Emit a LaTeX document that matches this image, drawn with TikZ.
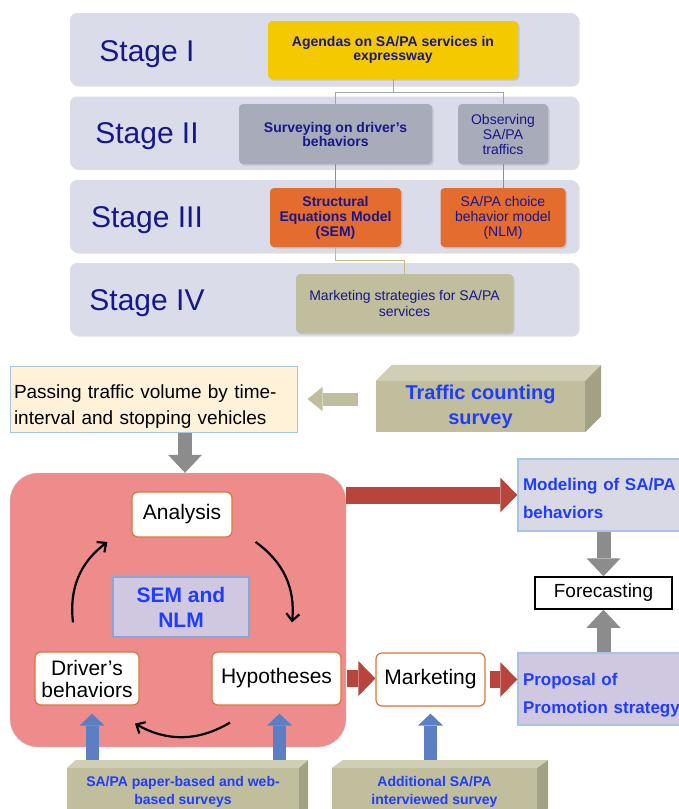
\documentclass[tikz,border=0pt]{standalone}
\usepackage{fontspec}
\setmainfont{Liberation Sans}
\usetikzlibrary{arrows.meta,calc,shadows}
\definecolor{panelgray}{HTML}{DADDE9}
\definecolor{stagenavy}{HTML}{17178C}
\definecolor{agendayellow}{HTML}{F5C900}
\definecolor{surveygray}{HTML}{A8ABBA}
\definecolor{modelorange}{HTML}{E46C2E}
\definecolor{khaki}{HTML}{C0BE9D}
\definecolor{khakitop}{HTML}{D0CEB5}
\definecolor{khakiside}{HTML}{A3A183}
\definecolor{cream}{HTML}{FFF2D9}
\definecolor{pinkbox}{HTML}{EE8C8C}
\definecolor{lavender}{HTML}{D0C8E0}
\definecolor{lightlav}{HTML}{D9D9E6}
\definecolor{textblue}{HTML}{1F3DFF}
\definecolor{arrowblue}{HTML}{5B7FC2}
\definecolor{arrowgray}{HTML}{8C8C8C}
\definecolor{arrowred}{HTML}{B8453B}
\definecolor{edgeorange}{HTML}{D8763C}
\definecolor{edgeblue}{HTML}{A7C3E6}
\definecolor{linkgray}{HTML}{A0A4B8}
\definecolor{linktan}{HTML}{C9B98A}
\begin{document}
\begin{tikzpicture}[x=1pt,y=-1pt,
        softshadow/.style={drop shadow={shadow xshift=1.5pt,shadow yshift=-1.5pt,opacity=0.25}},
        panel/.style={fill=panelgray,rounded corners=7pt,minimum width=508pt,minimum height=72pt,softshadow},
        stagelbl/.style={anchor=base,text=stagenavy,font=\fontsize{30}{32}\selectfont},
        topbox/.style={rounded corners=4pt,text=stagenavy,align=center,inner sep=0pt,softshadow},
        whitebox/.style={fill=white,draw=edgeorange,line width=1.2pt,rounded corners=6pt,inner sep=0pt,align=center,font=\fontsize{21}{22}\selectfont},
        bluetext/.style={text=textblue,font=\bfseries\fontsize{17}{28}\selectfont},
        graybar/.style={draw=arrowgray,line width=14pt,-{Triangle[width=34pt,length=18pt,line width=0pt]}},
        redbar/.style={draw=arrowred,line width=17pt,-{Triangle[width=35pt,length=17pt,line width=0pt]}},
        bluebar/.style={draw=arrowblue,line width=13pt,-{Triangle[width=25pt,length=12pt,line width=0pt]}},
        khakibar/.style={draw=khaki,line width=13pt,-{Triangle[width=24pt,length=15pt,line width=0pt]}},
        cyclearrow/.style={draw=black,line width=2.2pt,-{Straight Barb[length=7pt,width=13pt]}}]
        \useasboundingbox[fill=white] (0,0) rectangle (679,809);
        \node[panel] (panelI) at (324,49) {};
        \node[panel] (panelII) at (324,132.5) {};
        \node[panel] (panelIII) at (324,216) {};
        \node[panel] (panelIV) at (324,299) {};
        \node[stagelbl] (stageI) at (147,61) {Stage I};
        \node[stagelbl] (stageII) at (147,143) {Stage II};
        \node[stagelbl] (stageIII) at (147,227) {Stage III};
        \node[stagelbl] (stageIV) at (147,310) {Stage IV};
        \node[topbox,fill=agendayellow,minimum width=250pt,minimum height=58pt,font=\bfseries\fontsize{14}{14}\selectfont] (agenda) at (393,50) {Agendas on SA/PA services in\\expressway};
        \node[topbox,fill=surveygray,minimum width=193pt,minimum height=60pt,font=\bfseries\fontsize{14}{14}\selectfont] (survey) at (335.5,134) {Surveying on driver's\\behaviors};
        \node[topbox,fill=surveygray,minimum width=90pt,minimum height=60pt,font=\fontsize{14}{15}\selectfont] (observe) at (503,134) {Observing\\SA/PA\\traffics};
        \node[topbox,fill=modelorange,minimum width=131pt,minimum height=59pt,font=\bfseries\fontsize{14}{15}\selectfont] (sem) at (335.5,217.5) {Structural\\Equations Model\\(SEM)};
        \node[topbox,fill=modelorange,minimum width=125pt,minimum height=59pt,font=\fontsize{14}{15}\selectfont] (nlm) at (503,217.5) {SA/PA choice\\behavior model\\(NLM)};
        \node[topbox,fill=khaki,minimum width=217pt,minimum height=59pt,font=\fontsize{14}{16}\selectfont] (strategy) at (404.5,303.5) {Marketing strategies for SA/PA\\services};
        \draw[linkgray,line width=1pt] (agenda.south) -- ++(0,13) -| (survey.north);
        \draw[linkgray,line width=1pt] (agenda.south) -- ++(0,13) -| (observe.north);
        \draw[edgeorange,line width=1pt] (survey.south) -- (sem.north);
        \draw[edgeorange,line width=1pt] (observe.south) -- (nlm.north);
        \draw[linktan,line width=1pt] (sem.south) -- ++(0,13) -| (strategy.north);

        \node[fill=cream,draw=edgeblue,line width=1pt,minimum width=287pt,minimum height=66pt,text width=279pt,align=left,inner xsep=4pt,inner ysep=0pt,font=\fontsize{19}{26}\selectfont] (passing) at (153.5,399) {\rule{0pt}{29pt}Passing traffic volume by time-\\interval and stopping vehicles};
        \node[fill=khaki,minimum width=209pt,minimum height=51pt,inner sep=0pt,align=center,text=textblue,font=\bfseries\fontsize{20}{25}\selectfont] (counting) at (480.5,406.5) {Traffic counting\\survey};
        \fill[khakitop] (counting.north west) -- ++(16,-16) -- ($(counting.north east)+(16,-16)$) -- (counting.north east) -- cycle;
        \fill[khakiside] (counting.north east) -- ++(16,-16) -- ($(counting.south east)+(16,-16)$) -- (counting.south east) -- cycle;
        \draw[khakibar,shorten <=18pt,shorten >=10pt] (counting.west |- passing.east) -- (passing.east);

        \node[fill=pinkbox,draw=gray!40,rounded corners=28pt,minimum width=336pt,minimum height=274pt] (core) at (178,610) {};
        \draw[graybar] (passing.south -| 185,0) -- (core.north -| 185,0);
        \node[whitebox,minimum width=100pt,minimum height=45pt] (analysis) at (182,514.5) {Analysis};
        \node[fill=lavender,draw=arrowblue!70!white,line width=1.5pt,minimum width=136pt,minimum height=60pt,inner sep=0pt,align=center,text=textblue,font=\bfseries\fontsize{21}{25}\selectfont] (semnlm) at (181,607) {SEM and\\NLM};
        \node[whitebox,minimum width=104pt,minimum height=53pt] (driver) at (87,678.5) {Driver's\\behaviors};
        \node[whitebox,minimum width=129pt,minimum height=53pt] (hypo) at (276.5,678.5) {Hypotheses};
        \node[whitebox,minimum width=109pt,minimum height=53pt] (marketing) at (430.5,679.5) {Marketing};
        \draw[cyclearrow] ($(driver.north)+(-14,-29)$) to[bend left=30] ($(analysis.west)+(-24,27.5)$);
        \draw[cyclearrow] ($(analysis.east)+(23,27.5)$) to[bend left=30] ($(hypo.north)+(15.5,-29)$);
        \draw[cyclearrow] ($(hypo.south)+(-46.5,17)$) to[bend left=30] ($(driver.south)+(48,18)$);

        \node[fill=lightlav,draw=edgeblue,line width=1.5pt,minimum width=170pt,minimum height=72pt,text width=160pt,inner sep=5pt,align=left,bluetext] (modeling) at (603,495) {\rule{0pt}{20pt}Modeling of SA/PA\\behaviors};
        \node[fill=white,draw=black,line width=1.5pt,minimum width=137pt,minimum height=32pt,inner sep=0pt,font=\fontsize{19}{20}\selectfont] (forecast) at (603.5,593) {Forecasting};
        \node[fill=lavender,draw=edgeblue,line width=1.5pt,minimum width=170pt,minimum height=72pt,text width=160pt,inner sep=5pt,align=left,bluetext] (proposal) at (603,689) {\rule{0pt}{24pt}Proposal of\\Promotion strategy};
        \draw[redbar] (core.east |- modeling.west) -- (modeling.west);
        \draw[redbar,shorten <=5pt] (hypo.east) -- (marketing.west |- hypo.east);
        \draw[redbar,shorten <=4pt] (marketing.east) -- (proposal.west |- marketing.east);
        \draw[graybar] (modeling.south -| forecast.north) -- (forecast.north);
        \draw[graybar] (proposal.north -| forecast.south) -- (forecast.south);

        \node[fill=khaki,anchor=north,minimum width=232pt,minimum height=48pt,inner sep=0pt,align=center,text=textblue,font=\bfseries\fontsize{14}{18}\selectfont] (papersurvey) at (183,768) {SA/PA paper-based and web-\\based surveys};
        \node[fill=khaki,anchor=north,minimum width=205pt,minimum height=48pt,inner sep=0pt,align=center,text=textblue,font=\bfseries\fontsize{14}{18}\selectfont] (interview) at (434.5,768) {Additional SA/PA\\interviewed survey};
        \draw[bluebar,shorten >=8pt] ($(driver.south |- papersurvey.north)+(5,0)$) -- ($(driver.south)+(5,0)$);
        \draw[bluebar,shorten >=8pt] ($(hypo.south |- papersurvey.north)+(3,0)$) -- ($(hypo.south)+(3,0)$);
        \draw[bluebar,shorten >=7pt] (marketing.south |- interview.north) -- (marketing.south);
        \fill[khakitop] (papersurvey.north west) -- ++(9,-8) -- ($(papersurvey.north east)+(9,-8)$) -- (papersurvey.north east) -- cycle;
        \fill[khakiside] (papersurvey.north east) -- ++(9,-8) -- ($(papersurvey.south east)+(9,-8)$) -- (papersurvey.south east) -- cycle;
        \fill[khakitop] (interview.north west) -- ++(11,-8) -- ($(interview.north east)+(11,-8)$) -- (interview.north east) -- cycle;
        \fill[khakiside] (interview.north east) -- ++(11,-8) -- ($(interview.south east)+(11,-8)$) -- (interview.south east) -- cycle;
\end{tikzpicture}
\end{document}
